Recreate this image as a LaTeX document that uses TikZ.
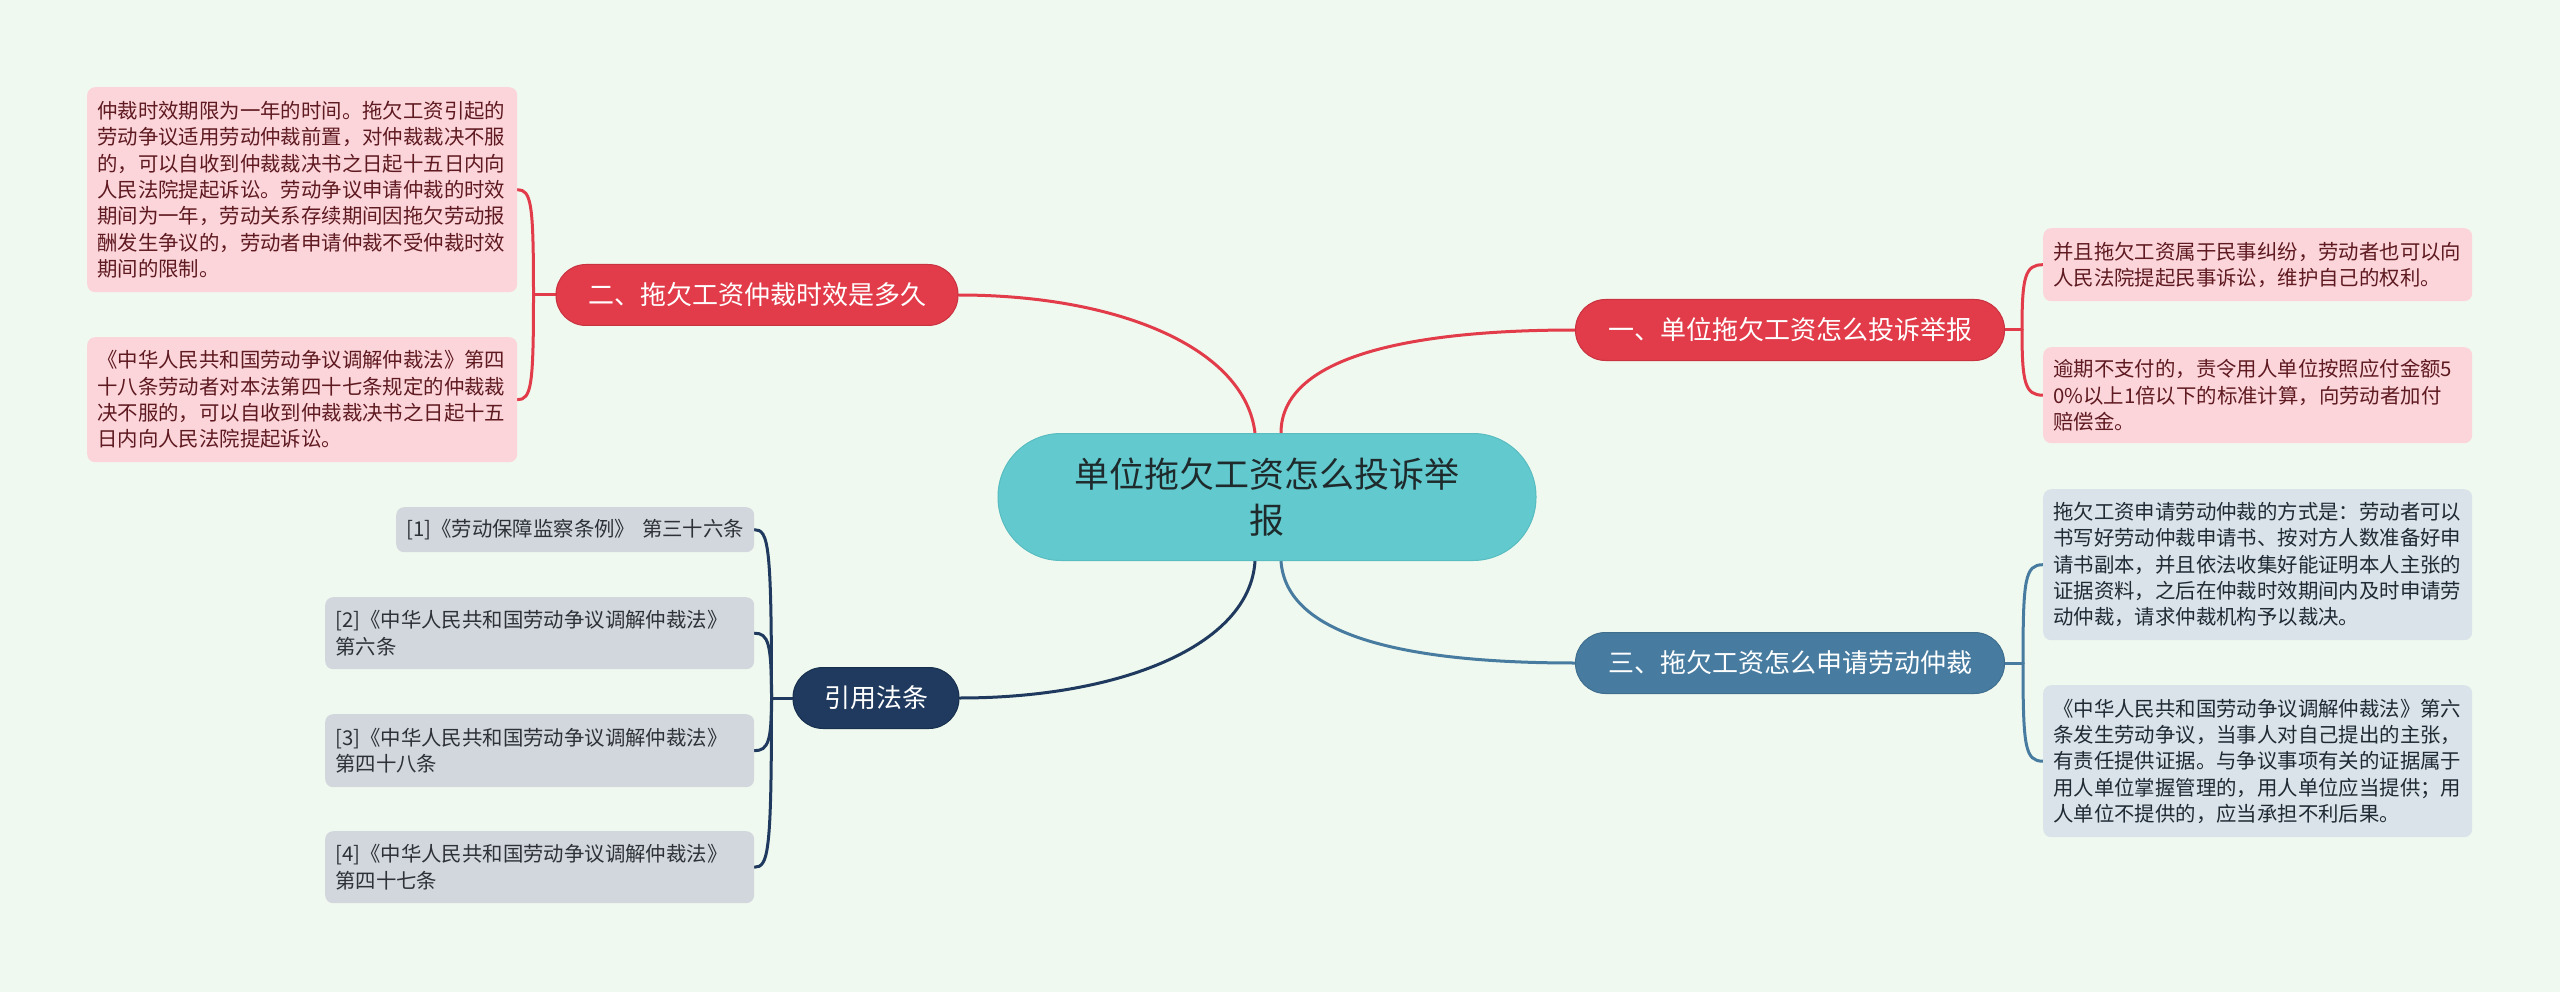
\documentclass[tikz,border=0pt]{standalone}
\usepackage{fontspec}
\setmainfont{Noto Sans CJK SC}
\usetikzlibrary{calc}
\pgfdeclarelayer{bgfill}
\pgfdeclarelayer{background}
\pgfsetlayers{bgfill,background,main}
\definecolor{bgc}{HTML}{F0F9EF}
\definecolor{tealc}{HTML}{62CACE}
\definecolor{teald}{HTML}{58BCC0}
\definecolor{centraltext}{HTML}{1E2A2C}
\definecolor{redb}{HTML}{E23C4A}
\definecolor{redd}{HTML}{C93240}
\definecolor{blueb}{HTML}{477CA0}
\definecolor{blued}{HTML}{3F6E8F}
\definecolor{navyb}{HTML}{1F3A5E}
\definecolor{navyd}{HTML}{18304F}
\definecolor{pinkleaf}{HTML}{FBD5DA}
\definecolor{pinktext}{HTML}{5E1A20}
\definecolor{blueleaf}{HTML}{DAE3EA}
\definecolor{bluetext}{HTML}{1F2A33}
\definecolor{greyleaf}{HTML}{D2D7DD}
\definecolor{greytext}{HTML}{2E3238}
\tikzset{
  central/.style={fill=tealc, draw=teald, line width=1pt, rounded corners=63pt,
    minimum width=538pt, minimum height=127pt, align=center, inner sep=0pt,
    font=\fontsize{35}{46}\selectfont, text=centraltext},
  branch/.style={rounded corners=30pt, minimum height=61pt, inner sep=0pt,
    line width=1pt, text=white, font=\fontsize{26}{30}\selectfont},
  leaf/.style={rounded corners=8pt, inner xsep=10pt, inner ysep=0pt, align=left,
    anchor=north west, font=\fontsize{20.4}{26.3}\selectfont},
  pinkbox/.style={leaf, fill=pinkleaf, text=pinktext},
  bluebox/.style={leaf, fill=blueleaf, text=bluetext},
  greybox/.style={leaf, fill=greyleaf, text=greytext},
  conn/.style={line width=3pt, line cap=round},
}
\begin{document}
\begin{tikzpicture}[x=1pt,y=-1pt]
\begin{pgfonlayer}{bgfill}
\fill[bgc] (0,0) rectangle (2560,992);
\end{pgfonlayer}
\useasboundingbox (0,0) rectangle (2560,992);

% central
\node[central] (c) at (1267,497) {单位拖欠工资怎么投诉举\\报};

% branches
\node[branch, fill=redb, draw=redd, minimum width=402pt] (b2) at (757,295) {二、拖欠工资仲裁时效是多久};
\node[branch, fill=redb, draw=redd, minimum width=429pt] (b1) at (1790,330) {一、单位拖欠工资怎么投诉举报};
\node[branch, fill=blueb, draw=blued, minimum width=429pt] (b3) at (1790,663) {三、拖欠工资怎么申请劳动仲裁};
\node[branch, fill=navyb, draw=navyd, minimum width=166pt] (b4) at (876,698) {引用法条};

% leaves of b2
\node[pinkbox, text width=410pt, minimum height=205pt] (l21) at (87,87) {仲裁时效期限为一年的时间。拖欠工资引起的\\劳动争议适用劳动仲裁前置，对仲裁裁决不服\\的，可以自收到仲裁裁决书之日起十五日内向\\人民法院提起诉讼。劳动争议申请仲裁的时效\\期间为一年，劳动关系存续期间因拖欠劳动报\\酬发生争议的，劳动者申请仲裁不受仲裁时效\\期间的限制。};
\node[pinkbox, text width=410pt, minimum height=125pt] (l22) at (87,337) {《中华人民共和国劳动争议调解仲裁法》第四\\十八条劳动者对本法第四十七条规定的仲裁裁\\决不服的，可以自收到仲裁裁决书之日起十五\\日内向人民法院提起诉讼。};

% leaves of b1
\node[pinkbox, text width=409pt, minimum height=73pt] (l11) at (2043,228) {并且拖欠工资属于民事纠纷，劳动者也可以向\\人民法院提起民事诉讼，维护自己的权利。};
\node[pinkbox, text width=409pt, minimum height=96pt] (l12) at (2043,347) {逾期不支付的，责令用人单位按照应付金额5\\0\%以上1倍以下的标准计算，向劳动者加付\\赔偿金。};

% leaves of b3
\node[bluebox, text width=409pt, minimum height=151pt] (l31) at (2043,489) {拖欠工资申请劳动仲裁的方式是：劳动者可以\\书写好劳动仲裁申请书、按对方人数准备好申\\请书副本，并且依法收集好能证明本人主张的\\证据资料，之后在仲裁时效期间内及时申请劳\\动仲裁，请求仲裁机构予以裁决。};
\node[bluebox, text width=409pt, minimum height=152pt] (l32) at (2043,685) {《中华人民共和国劳动争议调解仲裁法》第六\\条发生劳动争议，当事人对自己提出的主张，\\有责任提供证据。与争议事项有关的证据属于\\用人单位掌握管理的，用人单位应当提供；用\\人单位不提供的，应当承担不利后果。};

% leaves of b4
\node[greybox, text width=338pt, minimum height=45pt] (r1) at (396,507) {[1]《劳动保障监察条例》 第三十六条};
\node[greybox, text width=409pt, minimum height=72pt] (r2) at (325,597) {[2]《中华人民共和国劳动争议调解仲裁法》\\第六条};
\node[greybox, text width=409pt, minimum height=73pt] (r3) at (325,714) {[3]《中华人民共和国劳动争议调解仲裁法》\\第四十八条};
\node[greybox, text width=409pt, minimum height=72pt] (r4) at (325,831) {[4]《中华人民共和国劳动争议调解仲裁法》\\第四十七条};

\begin{pgfonlayer}{background}
% main connectors
\draw[conn, redb] ($(c.north)+(14,0)$) .. controls +(0,-75) and +(-170,0) .. (b1.west);
\draw[conn, redb] ($(c.north)+(-12,0)$) .. controls +(-10,-85) and +(160,0) .. (b2.east);
\draw[conn, blueb] ($(c.south)+(14,0)$) .. controls +(5,75) and +(-170,0) .. (b3.west);
\draw[conn, navyb] ($(c.south)+(-12,0)$) .. controls +(-5,85) and +(160,0) .. (b4.east);

% b1 leaves
\coordinate (j1) at ($(b1.east)+(17,0)$);
\draw[conn, redb] (b1.east) -- (j1);
\draw[conn, redb] (j1) .. controls ($(j1|-l11.west)+(0,12)$) and ($(l11.west)+(-18,0)$) .. (l11.west);
\draw[conn, redb] (j1) .. controls ($(j1|-l12.west)+(0,-12)$) and ($(l12.west)+(-18,0)$) .. (l12.west);

% b2 leaves
\coordinate (j2) at ($(b2.west)+(-22,0)$);
\draw[conn, redb] (b2.west) -- (j2);
\draw[conn, redb] (j2) .. controls ($(j2|-l21.east)+(0,14)$) and ($(l21.east)+(14,0)$) .. (l21.east);
\draw[conn, redb] (j2) .. controls ($(j2|-l22.east)+(0,-14)$) and ($(l22.east)+(14,0)$) .. (l22.east);

% b3 leaves
\coordinate (j3) at ($(b3.east)+(18,0)$);
\draw[conn, blueb] (b3.east) -- (j3);
\draw[conn, blueb] (j3) .. controls ($(j3|-l31.west)+(0,14)$) and ($(l31.west)+(-18,0)$) .. (l31.west);
\draw[conn, blueb] (j3) .. controls ($(j3|-l32.west)+(0,-14)$) and ($(l32.west)+(-18,0)$) .. (l32.west);

% b4 leaves
\coordinate (j4) at ($(b4.west)+(-21,0)$);
\draw[conn, navyb] (b4.west) -- (j4);
\draw[conn, navyb] (j4) .. controls ($(j4|-r1.east)+(0,14)$) and ($(r1.east)+(14,0)$) .. (r1.east);
\draw[conn, navyb] (j4) .. controls ($(j4|-r2.east)+(0,10)$) and ($(r2.east)+(14,0)$) .. (r2.east);
\draw[conn, navyb] (j4) .. controls ($(j4|-r3.east)+(0,-10)$) and ($(r3.east)+(14,0)$) .. (r3.east);
\draw[conn, navyb] (j4) .. controls ($(j4|-r4.east)+(0,-14)$) and ($(r4.east)+(14,0)$) .. (r4.east);
\end{pgfonlayer}
\end{tikzpicture}
\end{document}
